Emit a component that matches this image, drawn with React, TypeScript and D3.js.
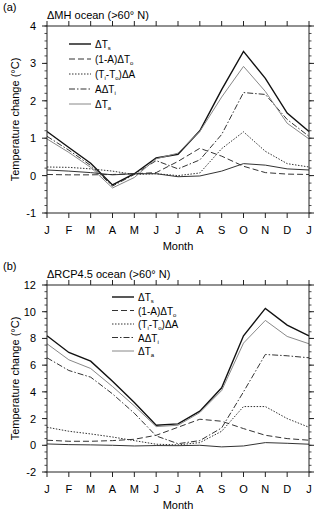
import * as d3 from "d3";
import React from "react";

const months = ["J", "F", "M", "A", "M", "J", "J", "A", "S", "O", "N", "D", "J"];

// panel (a) ΔMH ocean
const mhTs = [1.18, 0.75, 0.33, -0.25, 0.05, 0.47, 0.57, 1.2, 2.3, 3.32, 2.6, 1.67, 1.18];
const mhOcean = [0.03, 0.02, 0.02, 0.03, 0.05, 0.08, 0.38, 0.73, 0.52, 0.25, 0.08, 0.04, 0.03];
const mhAlbedo = [0.23, 0.22, 0.18, 0.12, 0.03, 0.05, 0.0, 0.07, 0.72, 1.17, 0.65, 0.32, 0.23];
const mhIce = [1.05, 0.68, 0.27, -0.28, 0.03, 0.4, 0.18, 0.42, 1.1, 2.22, 2.17, 1.5, 1.05];
const mhTa = [0.98, 0.62, 0.22, -0.33, -0.05, 0.45, 0.6, 1.18, 2.1, 2.92, 2.25, 1.4, 0.98];
const mhResid = [0.15, 0.12, 0.08, 0.02, 0.05, 0.05, -0.03, -0.01, 0.12, 0.32, 0.28, 0.18, 0.15];

// panel (b) ΔRCP4.5 ocean
const rcpTs = [8.2, 6.95, 6.3, 4.8, 3.2, 1.5, 1.6, 2.55, 4.3, 8.2, 10.25, 9.0, 8.2];
const rcpOcean = [0.38, 0.3, 0.3, 0.35, 0.45, 0.75, 1.35, 1.95, 1.8, 1.25, 0.75, 0.5, 0.38];
const rcpAlbedo = [1.35, 1.05, 0.85, 0.62, 0.35, 0.08, 0.03, 0.2, 1.05, 2.9, 2.9, 2.0, 1.35];
const rcpIce = [6.55, 5.6, 5.1, 3.85, 2.4, 0.7, 0.12, 0.35, 1.3, 4.0, 6.8, 6.7, 6.55];
const rcpTa = [7.6, 6.4, 5.75, 4.4, 2.95, 1.4, 1.5, 2.45, 4.1, 7.65, 9.35, 8.15, 7.6];
const rcpResid = [0.1, 0.05, 0.03, 0.0, -0.05, -0.02, -0.03, 0.0, -0.12, -0.05, 0.2, 0.15, 0.08];

const font = "'Liberation Sans', Arial, sans-serif";

type Style = { stroke: string; width: number; dash?: string };
const styles: Style[] = [
  { stroke: "#111", width: 1.4 },
  { stroke: "#333", width: 1, dash: "6,3" },
  { stroke: "#333", width: 1, dash: "1.5,1.5" },
  { stroke: "#333", width: 1, dash: "6,2,1.5,2" },
  { stroke: "#888", width: 1 },
  { stroke: "#333", width: 1 },
];

// legend labels: pieces of [text, kind]
const legendItems = [
  [["ΔT", ""], ["s", "sub"]],
  [["(1-A)ΔT", ""], ["o", "sub"]],
  [["(T", ""], ["i", "sub"], ["-T", ""], ["o", "sub"], [")ΔA", ""]],
  [["AΔT", ""], ["i", "sub"]],
  [["ΔT", ""], ["a", "sub"]],
];

type PanelProps = {
  top: number;
  label: string;
  title: string;
  series: number[][];
  domain: [number, number];
  major: number;
  minor: number;
  legendX: number;
  legendY: number;
  legendStep: number;
};

function Panel({ top, label, title, series, domain, major, minor, legendX, legendY, legendStep }: PanelProps) {
  const left = 47;
  const right = 309;
  const h = 187;
  const x = d3.scaleLinear().domain([0, 12]).range([left, right]);
  const y = d3.scaleLinear().domain(domain).range([top + h, top]);
  const line = d3
    .line<number>()
    .x((_, i) => x(i))
    .y((d) => y(d));
  const majors = d3.range(domain[0], domain[1] + 0.001, major);
  const minors = d3.range(domain[0], domain[1] + 0.001, minor);

  return (
    <g>
      <text x={3} y={top - 15} fontSize={11} fontFamily={font}>{label}</text>
      <text x={left} y={top - 7} fontSize={11} fontFamily={font}>{title}</text>
      {series.map((s, i) => {
        const st = styles[i];
        return (
          <path key={i} d={line(s) || ""} fill="none" stroke={st.stroke}
            strokeWidth={st.width} strokeDasharray={st.dash} />
        );
      })}
      <rect x={left} y={top} width={right - left} height={h} fill="none" stroke="#222" strokeWidth={1} />
      {minors.map((v, i) => (
        <g key={"mn" + i} stroke="#222" strokeWidth={0.8}>
          <line x1={left - 2.5} x2={left} y1={y(v)} y2={y(v)} />
          <line x1={right} x2={right + 2.5} y1={y(v)} y2={y(v)} />
        </g>
      ))}
      {majors.map((v, i) => (
        <g key={"mj" + i}>
          <line x1={left - 5} x2={left} y1={y(v)} y2={y(v)} stroke="#222" />
          <line x1={right} x2={right + 5} y1={y(v)} y2={y(v)} stroke="#222" />
          <text x={left - 11} y={y(v) + 4} fontSize={11} fontFamily={font} textAnchor="end">{v}</text>
        </g>
      ))}
      {months.map((m, i) => (
        <g key={"x" + i}>
          <line x1={x(i)} x2={x(i)} y1={top + h} y2={top + h + 5} stroke="#222" />
          <line x1={x(i)} x2={x(i)} y1={top - 5} y2={top} stroke="#222" />
          <text x={x(i)} y={top + h + 21} fontSize={11} fontFamily={font} textAnchor="middle">{m}</text>
        </g>
      ))}
      <text x={(left + right) / 2} y={top + h + 37} fontSize={11} fontFamily={font} textAnchor="middle">Month</text>
      <text transform={`translate(19,${top + h / 2}) rotate(-90)`} fontSize={11} fontFamily={font}
        textAnchor="middle">Temperature change (°C)</text>
      {legendItems.map((item, i) => {
        const st = styles[i];
        const ly = legendY + i * legendStep;
        return (
          <g key={"lg" + i}>
            <line x1={legendX} x2={legendX + 22} y1={ly} y2={ly} stroke={st.stroke}
              strokeWidth={st.width} strokeDasharray={st.dash} />
            <text x={legendX + 26} y={ly + 4} fontSize={10} fontFamily={font}>
              {item.map(([t, k], j) =>
                k === "sub" ? (
                  <tspan key={j} fontSize={6} dy={2}>{t}</tspan>
                ) : (
                  <tspan key={j} dy={j === 0 ? 0 : -2}>{t}</tspan>
                )
              )}
            </text>
          </g>
        );
      })}
    </g>
  );
}

export default function App() {
  return (
    <svg width={320} height={512} style={{ position: "absolute", left: 0, top: 0, background: "#fff" }}>
      <Panel top={26} label="(a)" title="ΔMH ocean (>60° N)"
        series={[mhTs, mhOcean, mhAlbedo, mhIce, mhTa, mhResid]}
        domain={[-1, 4]} major={1} minor={0.2}
        legendX={69} legendY={44} legendStep={15} />
      <Panel top={285} label="(b)" title="ΔRCP4.5 ocean (>60° N)"
        series={[rcpTs, rcpOcean, rcpAlbedo, rcpIce, rcpTa, rcpResid]}
        domain={[-2, 12]} major={2} minor={0.5}
        legendX={112} legendY={297} legendStep={13.5} />
    </svg>
  );
}
